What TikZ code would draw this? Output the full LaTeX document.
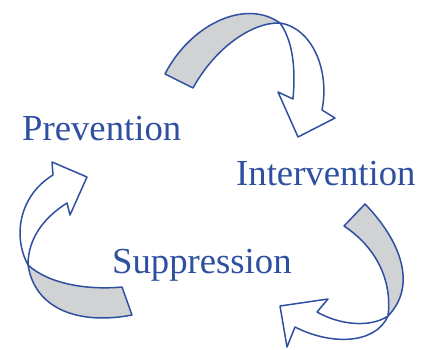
\documentclass[tikz,border=0pt]{standalone}
\usepackage{fontspec}
\setmainfont{Liberation Serif}
\definecolor{cycleblue}{RGB}{47,80,160}
\definecolor{bandgray}{RGB}{208,210,212}
\begin{document}
\begin{tikzpicture}[x=1pt, y=-1pt,
  back/.style = {draw=cycleblue, line width=1.5pt, line join=round, fill=bandgray},
  front/.style = {draw=cycleblue, line width=1.5pt, line join=round, fill=white},
  every node/.style = {text=cycleblue, inner sep=0pt, anchor=base west,
    font=\fontsize{36.7}{40}\selectfont}
  ]
  \useasboundingbox (0,0) rectangle (428,349);
  % labels
  \node (prev) at (22,140) {Prevention};
  \node (inter) at (236,185) {Intervention};
  \node (supp) at (112,273) {Suppression};
  % top arrow
  \draw[back] (165,74) .. controls (190,25) and (245,-2) .. (280,23)
    .. controls (252,22) and (215,48) .. (193,88) -- cycle;
  \draw[front] (280,23) .. controls (312,28) and (330,70) .. (322,110)
    -- (335,118) -- (298,137) -- (278,92) -- (293,99)
    .. controls (296,65) and (292,40) .. (280,23) -- cycle;
  % right arrow
  \draw[back] (344,226) -- (365,204) .. controls (400,240) and (418,285) .. (388,316)
    .. controls (392,285) and (380,250) .. (344,226) -- cycle;
  \draw[front] (388,316) .. controls (375,345) and (330,345) .. (295,327)
    -- (287,347) -- (280,306) -- (328,299) -- (317,312)
    .. controls (340,325) and (370,328) .. (388,316) -- cycle;
  % left arrow
  \draw[back] (28,265) .. controls (50,285) and (90,290) .. (122,287)
    -- (132,315) .. controls (80,325) and (35,310) .. (28,265) -- cycle;
  \draw[front] (28,265) .. controls (12,235) and (20,195) .. (53,175)
    -- (52,162) -- (87,177) -- (70,215) -- (67,203)
    .. controls (48,215) and (28,235) .. (28,265) -- cycle;
\end{tikzpicture}
\end{document}
